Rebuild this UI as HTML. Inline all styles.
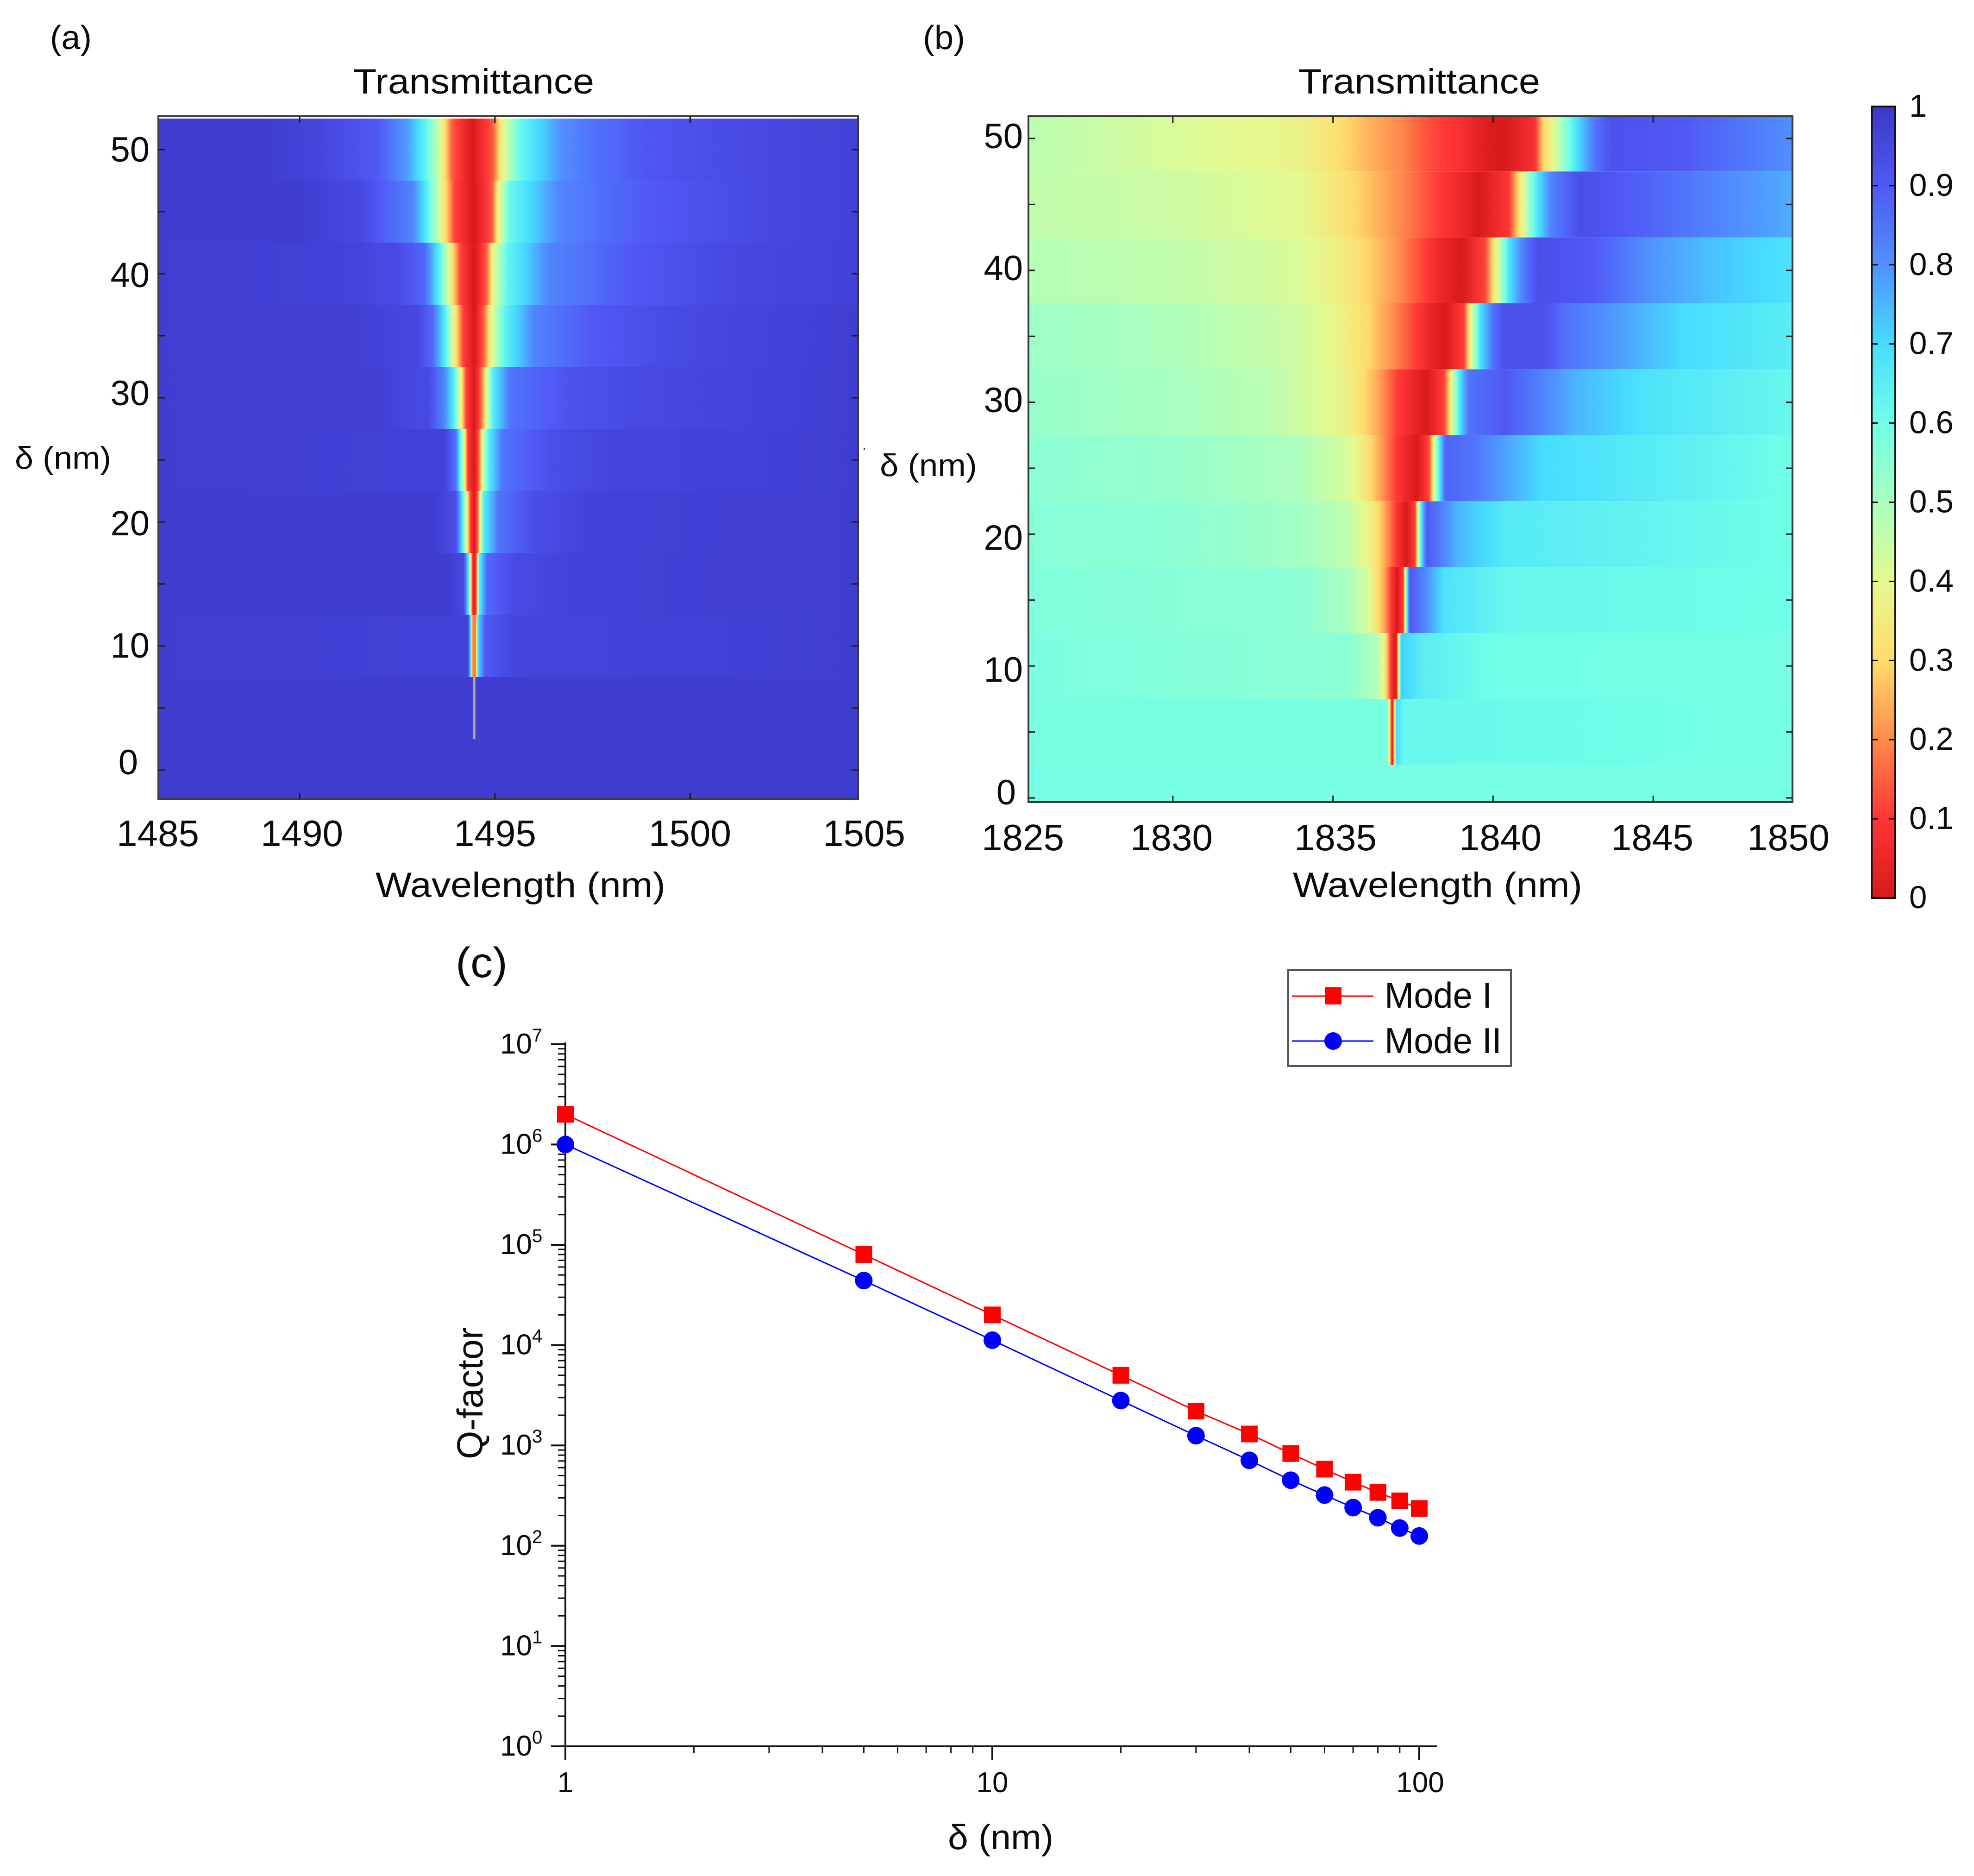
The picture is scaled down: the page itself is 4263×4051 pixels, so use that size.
<!DOCTYPE html>
<html lang="en">
<head>
<meta charset="utf-8">
<title>Transmittance maps and Q-factor</title>
<style>
html,body{margin:0;padding:0;background:#fff;}
svg{display:block;}
text{font-family:"Liberation Sans",sans-serif;fill:#0b0b0b;}
</style>
</head>
<body>
<svg id="figure" xmlns="http://www.w3.org/2000/svg" width="4263" height="4051" viewBox="0 0 4263 4051">
<rect x="0" y="0" width="4263" height="4051" fill="#ffffff"/>
<defs id="defs"></defs>

<g id="panelA"></g>
<g id="panelB"></g>
<g id="colorbar"></g>
<g id="panelC"></g>

<text x="108" y="106" font-size="72" textLength="90" lengthAdjust="spacingAndGlyphs">(a)</text>
<text x="1993" y="106" font-size="72" textLength="91" lengthAdjust="spacingAndGlyphs">(b)</text>
<text x="984" y="2110" font-size="92" textLength="112" lengthAdjust="spacingAndGlyphs">(c)</text>

<text x="763" y="202" font-size="76" textLength="520" lengthAdjust="spacingAndGlyphs">Transmittance</text>
<text x="2804" y="202" font-size="76" textLength="522" lengthAdjust="spacingAndGlyphs">Transmittance</text>

<text x="811" y="1937" font-size="76" textLength="626" lengthAdjust="spacingAndGlyphs">Wavelength (nm)</text>
<text x="2792" y="1937" font-size="76" textLength="625" lengthAdjust="spacingAndGlyphs">Wavelength (nm)</text>

<text x="32" y="1012" font-size="68" textLength="208" lengthAdjust="spacingAndGlyphs">δ (nm)</text>
<text x="1900" y="1028" font-size="68" textLength="210" lengthAdjust="spacingAndGlyphs">δ (nm)</text>
<rect x="1865" y="968" width="3" height="3" fill="#333"/>

<g font-size="80" text-anchor="middle">
<text x="341" y="1827">1485</text>
<text x="652" y="1827">1490</text>
<text x="1069" y="1827">1495</text>
<text x="1490" y="1827">1500</text>
<text x="1866" y="1827">1505</text>
</g>
<g font-size="76" text-anchor="end">
<text x="323" y="349">50</text>
<text x="323" y="620">40</text>
<text x="323" y="875">30</text>
<text x="323" y="1156">20</text>
<text x="323" y="1420">10</text>
<text x="298" y="1672">0</text>
</g>
<g font-size="80" text-anchor="middle">
<text x="2209" y="1836">1825</text>
<text x="2530" y="1836">1830</text>
<text x="2884" y="1836">1835</text>
<text x="3240" y="1836">1840</text>
<text x="3568" y="1836">1845</text>
<text x="3862" y="1836">1850</text>
</g>
<g font-size="76" text-anchor="end">
<text x="2209" y="320">50</text>
<text x="2209" y="605">40</text>
<text x="2209" y="890">30</text>
<text x="2209" y="1187">20</text>
<text x="2209" y="1472">10</text>
<text x="2194" y="1737">0</text>
</g>

<text x="2047" y="3993" font-size="75" textLength="228" lengthAdjust="spacingAndGlyphs">δ (nm)</text>
<text transform="translate(1042,3151) rotate(-90)" x="0" y="0" font-size="78" textLength="285" lengthAdjust="spacingAndGlyphs">Q-factor</text>

<g>
<rect x="2782" y="2095" width="481" height="207" fill="#ffffff" stroke="#555555" stroke-width="4"/>
<line x1="2790" y1="2151" x2="2966" y2="2151" stroke="#ff0000" stroke-width="3"/>
<rect x="2861" y="2132" width="36" height="37" fill="#ff0000"/>
<text x="2990" y="2176" font-size="78" textLength="232" lengthAdjust="spacingAndGlyphs">Mode I</text>
<line x1="2790" y1="2248" x2="2966" y2="2248" stroke="#0000ff" stroke-width="3"/>
<circle cx="2879" cy="2248" r="19" fill="#0000ff"/>
<text x="2990" y="2274" font-size="78" textLength="253" lengthAdjust="spacingAndGlyphs">Mode II</text>
</g>
</svg>

<script>
// ---------- colour scale ----------
const colormapLevels = [0, 0.1, 0.2, 0.3, 0.4, 0.5, 0.6, 0.7, 0.8, 0.9, 1];
const colormapColors = ['#d81a1a','#ff3535','#ff8a4c','#ffdc6c','#e4f98f','#a8ffc0','#70ffe8','#46dcff','#5090ff','#5058f5','#3c38c8'];
const colorbarTicks = [0.1, 0.2, 0.3, 0.4, 0.5, 0.6, 0.7, 0.8, 0.9];
const colorbarLabels = ['0','0.1','0.2','0.3','0.4','0.5','0.6','0.7','0.8','0.9','1'];

// ---------- panel (a): transmittance versus wavelength per delta ----------
const panelADeltas = [0, 5, 10, 15, 20, 25, 30, 35, 40, 45, 50];
const panelAWavelengths = [
  [1486.38,1504.3],
  [1486.38,1504.3],
  [1486.38,1494.3,1494.39,1494.41,1494.43,1494.47,1494.51,1494.53,1494.56,1494.75,1495.5,1504.3],
  [1486.38,1493.8,1494.2,1494.33,1494.38,1494.42,1494.47,1494.53,1494.56,1494.6,1494.8,1495.5,1497,1504.3],
  [1486.38,1493.5,1494,1494.18,1494.28,1494.37,1494.47,1494.56,1494.62,1494.71,1495.1,1496,1497.5,1504.3],
  [1486.38,1493.7,1494,1494.11,1494.22,1494.3,1494.47,1494.59,1494.68,1494.83,1495.2,1496.5,1498,1504.3],
  [1486.38,1492,1493.3,1493.7,1493.96,1494.12,1494.26,1494.47,1494.64,1494.78,1494.94,1495.4,1497,1499,1504.3],
  [1486.38,1491.5,1493,1493.4,1493.73,1493.95,1494.18,1494.47,1494.71,1494.9,1495.24,1496,1497.5,1500,1504.3],
  [1486.38,1491,1492.5,1493.2,1493.58,1493.85,1494.11,1494.47,1494.79,1494.95,1495.32,1496.4,1498.5,1501,1504.3],
  [1486.38,1490,1491.5,1492.9,1493.27,1493.65,1493.96,1494.47,1494.94,1495.09,1495.39,1496.67,1498.97,1502,1504.3],
  [1486.38,1489.14,1490.5,1492,1492.77,1493.22,1493.6,1493.9,1494.43,1494.96,1495.19,1495.64,1496.7,1497.46,1498.97,1502,1504.3]
];
const panelATransmittance = [
  [0.98,0.98],
  [0.98,0.98],
  [0.98,0.97,0.65,0.35,0.2,0.18,0.2,0.35,0.68,0.9,0.96,0.98],
  [0.98,0.98,0.95,0.65,0.38,0.12,0.02,0.15,0.38,0.65,0.87,0.94,0.97,0.98],
  [0.98,0.98,0.93,0.65,0.38,0.12,0,0.15,0.38,0.65,0.85,0.93,0.97,0.98],
  [0.98,0.97,0.85,0.65,0.38,0.12,0,0.15,0.38,0.65,0.85,0.93,0.96,0.98],
  [0.98,0.975,0.94,0.82,0.65,0.38,0.12,0,0.15,0.38,0.65,0.85,0.92,0.95,0.98],
  [0.98,0.975,0.95,0.87,0.65,0.38,0.12,0,0.15,0.38,0.63,0.82,0.9,0.95,0.98],
  [0.98,0.97,0.94,0.87,0.65,0.38,0.12,0,0.15,0.38,0.63,0.82,0.9,0.95,0.97],
  [0.98,0.98,0.95,0.82,0.65,0.38,0.12,0,0.15,0.38,0.62,0.82,0.9,0.95,0.97],
  [0.98,0.98,0.96,0.9,0.78,0.64,0.42,0.15,0,0.15,0.38,0.62,0.8,0.85,0.91,0.95,0.97]
];
const panelALineDelta = 5;
const panelALineWavelength = 1494.47;
const panelAXTicks = [1490, 1495, 1500];
const panelAYTicks = [0, 5, 10, 15, 20, 25, 30, 35, 40, 45, 50];

// ---------- panel (b) ----------
const panelBDeltas = [0, 5, 10, 15, 20, 25, 30, 35, 40, 45, 50];
const panelBWavelengths = [
  [1825.49,1849.35],
  [1825.49,1836.7,1836.78,1836.85,1836.92,1836.98,1837.2,1849.35],
  [1825.49,1835.5,1836.4,1836.6,1836.75,1836.85,1836.95,1837,1837.05,1837.13,1837.8,1840,1849.35],
  [1825.49,1834,1835.5,1836.1,1836.63,1836.85,1837,1837.2,1837.25,1837.33,1837.4,1837.7,1838.5,1840.4,1849.35],
  [1825.49,1830,1834,1835.5,1836.1,1836.5,1836.9,1837.28,1837.57,1837.65,1837.76,1837.93,1838.9,1840.4,1849.35],
  [1825.49,1830,1834,1835.5,1835.9,1836.6,1837,1837.6,1838,1838.15,1838.33,1838.52,1839.35,1841.5,1849.35],
  [1825.49,1830,1833,1835,1835.65,1836.5,1837,1837.93,1838.48,1838.7,1838.96,1839.24,1840.4,1842.6,1844.8,1849.35],
  [1825.49,1830,1833.87,1835,1836,1836.9,1837.5,1838,1838.5,1839.1,1839.3,1839.6,1840,1840.3,1841.6,1842.3,1844,1845.9,1849.35],
  [1825.49,1830,1833.87,1835,1836.1,1837,1837.7,1838.3,1839,1839.75,1840.1,1840.5,1840.9,1841.4,1843,1844,1844.8,1847,1849.35],
  [1825.49,1830,1833.87,1835,1836.1,1837.1,1838.4,1839.2,1839.55,1840.5,1840.9,1841.4,1841.8,1842.7,1844.8,1847,1849.35],
  [1825.49,1830,1833.87,1835,1836.1,1837.1,1838,1839,1839.7,1840.3,1841.3,1841.55,1841.94,1842.26,1842.6,1843.2,1843.7,1845.9,1848,1849.35]
];
const panelBTransmittance = [
  [0.59,0.59],
  [0.585,0.585,0.3,0,0.3,0.7,0.62,0.59],
  [0.58,0.55,0.48,0.38,0.18,0.06,0,0.1,0.38,0.72,0.65,0.6,0.59],
  [0.57,0.55,0.5,0.42,0.22,0.08,0,0.12,0.38,0.7,0.9,0.85,0.68,0.62,0.6],
  [0.56,0.55,0.51,0.46,0.38,0.28,0.13,0,0.12,0.38,0.68,0.9,0.75,0.66,0.6],
  [0.55,0.53,0.49,0.42,0.36,0.2,0.1,0,0.12,0.38,0.68,0.88,0.85,0.7,0.6],
  [0.53,0.5,0.47,0.4,0.35,0.22,0.11,0,0.12,0.38,0.68,0.85,0.9,0.75,0.68,0.62],
  [0.52,0.49,0.44,0.39,0.31,0.2,0.12,0.05,0,0.12,0.38,0.68,0.85,0.92,0.92,0.85,0.78,0.7,0.65],
  [0.48,0.46,0.42,0.37,0.29,0.21,0.13,0.06,0,0.12,0.38,0.68,0.82,0.93,0.9,0.85,0.8,0.73,0.68],
  [0.46,0.44,0.4,0.34,0.27,0.2,0.1,0.04,0,0.1,0.38,0.68,0.82,0.93,0.88,0.82,0.76],
  [0.47,0.42,0.38,0.32,0.25,0.2,0.13,0.08,0.02,0,0.08,0.28,0.42,0.55,0.68,0.85,0.92,0.9,0.84,0.8]
];
const panelBXTicks = [1830, 1835, 1840, 1845];
const panelBYTicks = [0, 5, 10, 15, 20, 25, 30, 35, 40, 45, 50];

// ---------- panel (c) ----------
const deltaValues = [1, 5, 10, 20, 30, 40, 50, 60, 70, 80, 90, 100];
const modeOneQ = [2000000, 80000, 20000, 5000, 2200, 1300, 830, 580, 430, 340, 280, 235];
const modeTwoQ = [1000000, 44000, 11200, 2800, 1250, 710, 450, 320, 240, 190, 150, 125];
const qXTicks = [1, 10, 100];
const qXTickLabels = ['1', '10', '100'];
const qYExponents = [0, 1, 2, 3, 4, 5, 6, 7];
const logMinorSteps = [2, 3, 4, 5, 6, 7, 8, 9];

// ---------- helpers ----------
const SVG_NS = 'http://www.w3.org/2000/svg';
function make(tag, attrs, parent) {
  const el = document.createElementNS(SVG_NS, tag);
  for (const k in attrs) el.setAttribute(k, attrs[k]);
  parent.appendChild(el);
  return el;
}
function linearScale(d0, d1, r0, r1) {
  return v => r0 + (v - d0) * (r1 - r0) / (d1 - d0);
}
function hexToRgb(h) {
  return [parseInt(h.slice(1,3),16), parseInt(h.slice(3,5),16), parseInt(h.slice(5,7),16)];
}
function colorFor(t) {
  t = Math.max(0, Math.min(1, t));
  let i = 0;
  while (i < colormapLevels.length - 2 && t > colormapLevels[i + 1]) i++;
  const f = (t - colormapLevels[i]) / (colormapLevels[i + 1] - colormapLevels[i]);
  const a = hexToRgb(colormapColors[i]), b = hexToRgb(colormapColors[i + 1]);
  return 'rgb(' + a.map((c, k) => Math.round(c + (b[k] - c) * f)).join(',') + ')';
}
const defs = document.getElementById('defs');

function drawHeatmap(cfg) {
  const g = document.getElementById(cfg.groupId);
  const x = cfg.x, y = cfg.y, box = cfg.box;
  cfg.deltas.forEach((delta, r) => {
    const gradId = cfg.prefix + '-band-gradient-' + delta;
    const grad = make('linearGradient', {id: gradId, gradientUnits: 'userSpaceOnUse', x1: box.left, x2: box.right, y1: 0, y2: 0}, defs);
    const wl = cfg.wavelengths[r], tr = cfg.transmittance[r];
    const width = box.right - box.left;
    const addStop = (w, t) => {
      const off = Math.max(0, Math.min(1, (x(w) - box.left) / width));
      make('stop', {offset: off.toFixed(5), 'stop-color': colorFor(t)}, grad);
    };
    for (let i = 0; i < wl.length - 1; i++) {
      const n = 10;
      for (let s = 0; s < n; s++) {
        addStop(wl[i] + (wl[i + 1] - wl[i]) * s / n, tr[i] + (tr[i + 1] - tr[i]) * s / n);
      }
    }
    addStop(wl[wl.length - 1], tr[tr.length - 1]);
    const top = Math.max(box.top, y(delta + 2.5));
    const bottom = Math.min(box.bottom, y(delta - 2.5));
    const band = make('rect', {x: box.left, y: top, width: width, height: bottom - top, fill: 'url(#' + gradId + ')'}, g);
    
    
  });
  if (cfg.lineWavelength !== undefined) {
    const t = y(cfg.lineDelta + 2.5), b = y(cfg.lineDelta - 2.5);
    const line = make('rect', {x: x(cfg.lineWavelength) - 2.5, y: t, width: 5, height: b - t, fill: '#b3a6ab'}, g);
    
    
  }
  const frame = make('rect', {x: box.left, y: box.top, width: box.right - box.left, height: box.bottom - box.top, fill: 'none', stroke: '#3a3a3a', 'stroke-width': 4}, g);
  
  
  cfg.xTicks.forEach(v => {
    [[box.top, box.top + 14], [box.bottom, box.bottom - 14]].forEach(p => {
      const tick = make('line', {x1: x(v), x2: x(v), y1: p[0], y2: p[1], stroke: '#1c1c1c', 'stroke-width': 3}, g);
      
      
    });
  });
  cfg.yTicks.forEach(v => {
    [[box.left, box.left + 14], [box.right, box.right - 14]].forEach(p => {
      const tick = make('line', {x1: p[0], x2: p[1], y1: y(v), y2: y(v), stroke: '#1c1c1c', 'stroke-width': 3}, g);
      
      
    });
  });
}

drawHeatmap({
  groupId: 'panelA', prefix: 'a',
  box: {left: 342, right: 1853, top: 251, bottom: 1726},
  x: linearScale(1486.38, 1504.3, 342, 1853),
  y: linearScale(0, 50, 1663, 323),
  deltas: panelADeltas, wavelengths: panelAWavelengths, transmittance: panelATransmittance,
  lineDelta: panelALineDelta, lineWavelength: panelALineWavelength,
  xTicks: panelAXTicks, yTicks: panelAYTicks
});
drawHeatmap({
  groupId: 'panelB', prefix: 'b',
  box: {left: 2221, right: 3871, top: 251, bottom: 1732},
  x: linearScale(1825.49, 1849.35, 2221, 3871),
  y: linearScale(0, 50, 1723, 299),
  deltas: panelBDeltas, wavelengths: panelBWavelengths, transmittance: panelBTransmittance,
  xTicks: panelBXTicks, yTicks: panelBYTicks
});

// ---------- colour bar ----------
(function () {
  const g = document.getElementById('colorbar');
  const cbY = linearScale(0, 1, 1939, 230);
  const grad = make('linearGradient', {id: 'colorbar-gradient', x1: 0, x2: 0, y1: 1, y2: 0}, defs);
  colormapLevels.forEach(l => {
    make('stop', {offset: l, 'stop-color': colorFor(l)}, grad);
  });
  const bar = make('rect', {x: 4042, y: cbY(1), width: 51, height: cbY(0) - cbY(1), fill: 'url(#colorbar-gradient)', stroke: '#111', 'stroke-width': 4}, g);
  
  
  colorbarTicks.forEach(v => {
    [[4042, 4055], [4093, 4080]].forEach(p => {
      const tick = make('line', {x1: p[0], x2: p[1], y1: cbY(v), y2: cbY(v), stroke: '#111', 'stroke-width': 3}, g);
      
      
    });
  });
  colorbarLabels.forEach((lab, i) => {
    const t = make('text', {x: 4123, y: cbY(i / 10) + 22, 'font-size': 69}, g);
    t.textContent = lab;
    
    
  });
})();

// ---------- panel (c) ----------
(function () {
  const g = document.getElementById('panelC');
  const x = v => 1221 + Math.log10(v) * 922;
  const y = v => 3771 - Math.log10(v) * 216.6;

  qYExponents.forEach(e => {
    const major = make('line', {x1: 1190, x2: 1221, y1: y(Math.pow(10, e)), y2: y(Math.pow(10, e)), stroke: '#111', 'stroke-width': 4}, g);
    
    
    if (e < 7) logMinorSteps.forEach(m => {
      const v = m * Math.pow(10, e);
      const minor = make('line', {x1: 1205, x2: 1221, y1: y(v), y2: y(v), stroke: '#111', 'stroke-width': 3}, g);
      
      
    });
    const label = make('text', {x: 1080, y: y(Math.pow(10, e)) + 20, 'font-size': 62}, g);
    
    
    const base = make('tspan', {}, label);
    base.textContent = '10';
    const sup = make('tspan', {dy: -26, 'font-size': 40}, label);
    sup.textContent = String(e);
  });
  qXTicks.forEach((v, i) => {
    const major = make('line', {x1: x(v), x2: x(v), y1: 3771, y2: 3800, stroke: '#111', 'stroke-width': 4}, g);
    
    
    if (i < qXTicks.length - 1) logMinorSteps.forEach(m => {
      const minor = make('line', {x1: x(m * v), x2: x(m * v), y1: 3771, y2: 3786, stroke: '#111', 'stroke-width': 3}, g);
      
      
    });
    const label = make('text', {x: x(v) + (v === 100 ? 2 : 0), y: 3870, 'font-size': 62, 'text-anchor': 'middle'}, g);
    label.textContent = qXTickLabels[i];
    
    
  });
  const ySpine = make('line', {x1: 1221, x2: 1221, y1: 2251, y2: 3773, stroke: '#111', 'stroke-width': 4}, g);
  
  
  const xSpine = make('line', {x1: 1219, x2: 3103, y1: 3771, y2: 3771, stroke: '#111', 'stroke-width': 4}, g);
  
  

  const lineOne = make('polyline', {points: deltaValues.map((d, i) => x(d) + ',' + y(modeOneQ[i])).join(' '), fill: 'none', stroke: '#ff0000', 'stroke-width': 3}, g);
  
  
  const lineTwo = make('polyline', {points: deltaValues.map((d, i) => x(d) + ',' + y(modeTwoQ[i])).join(' '), fill: 'none', stroke: '#0000ff', 'stroke-width': 3}, g);
  
  

  deltaValues.forEach((d, i) => {
    const sq = make('rect', {x: x(d) - 18, y: y(modeOneQ[i]) - 18, width: 36, height: 36, fill: '#ff0000'}, g);
    
    
    const c = make('circle', {cx: x(d), cy: y(modeTwoQ[i]), r: 19, fill: '#0000ff'}, g);
    
    
  });
})();
</script>
</body>
</html>
